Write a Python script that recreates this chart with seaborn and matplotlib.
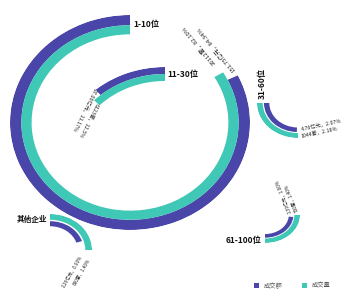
import numpy as np
import matplotlib
matplotlib.use("Agg")
import matplotlib.pyplot as plt
from matplotlib.patches import Patch
import seaborn as sns

# ---------------- data ----------------
groups = ["1-10位", "11-30位", "31-60位", "61-100位", "其他企业"]
amount_text = ["151.75亿元，84.34%", "27.06亿元，11.17%", "4.76亿元，2.07%",
               "2.39亿元，1.00%", "2.26亿元，0.90%"]
volume_text = ["20112套，82.10%", "6123套，12.5%", "1044套，2.18%",
               "700套，1.40%", "680套，1.40%"]
amount_pct = [84.34, 11.17, 2.07, 1.00, 0.90]
volume_pct = [82.10, 12.5, 2.18, 1.40, 1.40]
# arc sweeps (degrees)
amount_arc = [296, 40, 88, 85, 72]
volume_arc = [301, 45, 90, 90, 90]
legend_labels = ["成交额", "成交量"]

# ---------------- style ----------------
sns.set_theme(style="white")
plt.rcParams["font.family"] = ["Noto Sans CJK SC", "DejaVu Sans"]
PURPLE = "#4a46a9"
TEAL = "#3ec8b5"
W, H = 350, 300

fig = plt.figure(figsize=(3.5, 3.0), dpi=100)
fig.patch.set_facecolor("white")

# ring layout: center(px), Rx, Ry, start angle, direction, purple band, teal band
rings = [
    dict(c=(130, 122.5), rx=120, ry=107.5, start=90, d=1, pb=(0.905, 1.0), tb=(0.82, 0.905)),
    dict(c=(165, 164), rx=108, ry=97, start=90, d=1, pb=(0.928, 1.0), tb=(0.856, 0.928)),
    dict(c=(298, 103), rx=41, ry=35, start=180, d=1, pb=(0.70, 0.83), tb=(0.86, 1.0)),
    dict(c=(265, 215), rx=35, ry=28, start=270, d=1, pb=(0.68, 0.81), tb=(0.84, 1.0)),
    dict(c=(50, 250), rx=42, ry=36, start=90, d=-1, pb=(0.66, 0.80), tb=(0.84, 1.0)),
]

for i, r in enumerate(rings):
    cx, cy = r["c"]
    rect = [(cx - r["rx"]) / W, (H - cy - r["ry"]) / H, 2 * r["rx"] / W, 2 * r["ry"] / H]
    pax = fig.add_axes(rect, projection="polar")
    pax.set_aspect("auto")
    pax.set_ylim(0, 1)
    pax.set_axis_off()
    for sweep, band, col in [(amount_arc[i], r["pb"], PURPLE), (volume_arc[i], r["tb"], TEAL)]:
        if r["d"] > 0:
            a0 = r["start"]
        else:
            a0 = r["start"] - sweep
        pax.bar(np.radians(a0 + sweep / 2), band[1] - band[0], width=np.radians(sweep),
                bottom=band[0], color=col, edgecolor="none", linewidth=0)

# text layer
ax = fig.add_axes([0, 0, 1, 1])
ax.set_xlim(0, W)
ax.set_ylim(H, 0)
ax.set_axis_off()

# group labels
glab = [
    dict(xy=(133, 24), ha="left", rot=0, fs=6),
    dict(xy=(167, 74), ha="left", rot=0, fs=6),
    dict(xy=(262, 99), ha="left", rot=90, fs=6),
    dict(xy=(262, 240), ha="right", rot=0, fs=6),
    dict(xy=(47, 219), ha="right", rot=0, fs=5.5),
]
for g, p in zip(groups, glab):
    ax.text(p["xy"][0], p["xy"][1], g, ha=p["ha"], va="center", rotation=p["rot"],
            rotation_mode="anchor", fontsize=p["fs"], fontweight="bold", color="#111111")

# value labels
vlab = [
    dict(a=(234, 71), v=(214, 64), rot=130, ha="left", fs=4.3),
    dict(a=(95, 88), v=(97, 103), rot=243, ha="left", fs=3.9),
    dict(a=(301, 130), v=(301, 136), rot=12, ha="left", fs=3.8),
    dict(a=(290, 213), v=(297, 212), rot=112, ha="left", fs=3.3),
    dict(a=(81, 256), v=(89, 259), rot=60, ha="right", fs=3.3),
]
for i, p in enumerate(vlab):
    ax.text(p["a"][0], p["a"][1], amount_text[i], ha=p["ha"], va="center", rotation=p["rot"],
            rotation_mode="anchor", fontsize=p["fs"], color="#222222")
    ax.text(p["v"][0], p["v"][1], volume_text[i], ha=p["ha"], va="center", rotation=p["rot"],
            rotation_mode="anchor", fontsize=p["fs"], color="#222222")

handles = [Patch(facecolor=PURPLE, edgecolor="none"), Patch(facecolor=TEAL, edgecolor="none")]
fig.legend(handles, legend_labels, loc="center", bbox_to_anchor=(0.835, 0.047), ncol=2,
           frameon=False, fontsize=4.5, handlelength=0.9, handleheight=0.9,
           columnspacing=3.0, handletextpad=0.8, labelcolor="#555555")

fig.savefig("out.png", dpi=100, facecolor="white")
